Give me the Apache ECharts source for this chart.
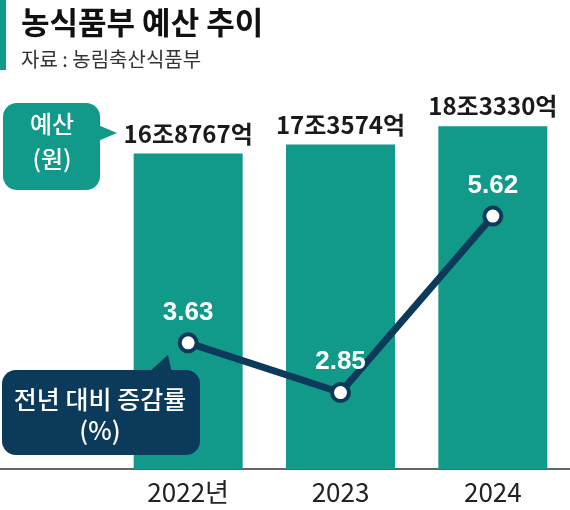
<!DOCTYPE html>
<html>
<head>
<meta charset="utf-8">
<script src="https://cdn.jsdelivr.net/npm/echarts@6/dist/echarts.min.js"></script>
<style>
  html, body { margin: 0; padding: 0; background: #fff; }
  #chart { width: 570px; height: 510px; }
</style>
</head>
<body>
<div id="chart"></div>
<script>
// 연도
var years = ['2022년', '2023', '2024']
// 예산 (억 원)
var budget = [168767, 173574, 183330]
// 전년 대비 증감률 (%)
var growth = [3.63, 2.85, 5.62]

var TEAL = '#11998a'
var NAVY = '#0c3a5a'
var KR = 'Noto Sans CJK KR'

function budgetLabel(v) {
	return Math.floor(v / 10000) + '조' + (v % 10000) + '억'
}

var chart = echarts.init(document.getElementById('chart'))
var option = {
	animation: false,
	grid: { left: 112, right: 1, top: 95, bottom: 41 },
	xAxis: {
		type: 'category',
		data: years,
		axisLine: { show: false },
		axisTick: { show: false },
		axisLabel: {
			margin: 10,
			color: '#222',
			fontSize: 26,
			fontFamily: KR
		}
	},
	yAxis: [
		{ type: 'value', min: 0, max: 200000, show: false },
		{ type: 'value', min: 1.65, max: 7.52, show: false }
	],
	series: [
		{
			type: 'bar',
			data: budget,
			barWidth: 109,
			itemStyle: { color: TEAL },
			label: {
				show: true,
				position: 'top',
				distance: 8,
				color: '#1a1a1a',
				fontSize: 24,
				fontWeight: 'bold',
				fontFamily: KR,
				formatter: function (p) { return budgetLabel(p.value) }
			}
		},
		{
			type: 'line',
			yAxisIndex: 1,
			data: growth,
			symbol: 'circle',
			symbolSize: 17,
			lineStyle: { color: NAVY, width: 7 },
			itemStyle: { color: '#fff', borderColor: NAVY, borderWidth: 4 },
			label: {
				show: true,
				position: 'top',
				distance: 7,
				color: '#fff',
				fontSize: 26,
				fontWeight: 'bold',
				fontFamily: 'Liberation Sans, sans-serif',
				formatter: function (p) { return p.value.toFixed(2) }
			},
			z: 5
		}
	],
	graphic: [
		// 축선
		{ type: 'line', z: 1, shape: { x1: 0, y1: 469, x2: 570, y2: 469 }, style: { stroke: '#333', lineWidth: 1.5 } },
		// 제목
		{ type: 'rect', shape: { x: 0, y: 0, width: 6, height: 70 }, style: { fill: TEAL } },
		{ type: 'text', style: { text: '농식품부 예산 추이', x: 21, y: 22, verticalAlign: 'middle', fill: '#111', fontSize: 31, fontWeight: 'bold', fontFamily: KR } },
		{ type: 'text', style: { text: '자료 : 농림축산식품부', x: 21, y: 59, verticalAlign: 'middle', fill: '#333', fontSize: 20, fontFamily: KR } },
		// 예산 말풍선
		{ type: 'rect', z: 100, shape: { x: 3, y: 103, width: 97, height: 87, r: 14 }, style: { fill: TEAL } },
		{ type: 'polygon', z: 100, shape: { points: [[98, 125], [117, 133], [98, 141]] }, style: { fill: TEAL } },
		{ type: 'text', z: 101, style: { text: '예산\n(원)', x: 52, y: 141, align: 'center', verticalAlign: 'middle', lineHeight: 35, fill: '#fff', fontSize: 24, fontWeight: 500, fontFamily: KR } },
		// 증감률 말풍선
		{ type: 'rect', z: 100, shape: { x: 2, y: 370, width: 198, height: 85, r: 14 }, style: { fill: NAVY } },
		{ type: 'polygon', z: 100, shape: { points: [[148, 373], [168, 355], [172, 373]] }, style: { fill: NAVY } },
		{ type: 'text', z: 101, style: { text: '전년 대비 증감률\n(%)', x: 100, y: 415, align: 'center', verticalAlign: 'middle', lineHeight: 31, fill: '#fff', fontSize: 25, fontWeight: 500, fontFamily: KR } }
	]
}
chart.setOption(option)
</script>
</body>
</html>
